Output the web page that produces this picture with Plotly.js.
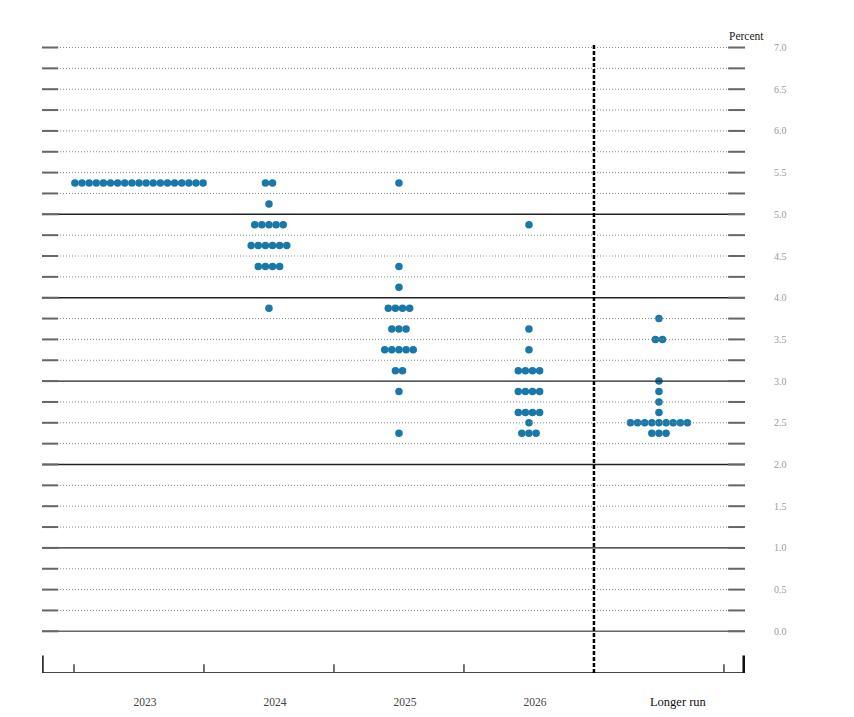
<!DOCTYPE html>
<html>
<head>
<meta charset="utf-8">
<script src="https://cdn.plot.ly/plotly-3.0.1.min.js"></script>
<style>html,body{margin:0;padding:0;background:#fff;}#chart{width:854px;height:717px;}</style>
</head>
<body>
<div id="chart"></div>
<script>
// ---- Data: each entry is one participant's projection (percent) ----
const categories = ['2023', '2024', '2025', '2026', 'Longer run'];

const dots2023 = [5.375, 5.375, 5.375, 5.375, 5.375, 5.375, 5.375, 5.375, 5.375, 5.375,
                  5.375, 5.375, 5.375, 5.375, 5.375, 5.375, 5.375, 5.375, 5.375];
const dots2024 = [5.375, 5.375, 5.125, 4.875, 4.875, 4.875, 4.875, 4.875,
                  4.625, 4.625, 4.625, 4.625, 4.625, 4.625,
                  4.375, 4.375, 4.375, 4.375, 3.875];
const dots2025 = [5.375, 4.375, 4.125, 3.875, 3.875, 3.875, 3.875,
                  3.625, 3.625, 3.625, 3.375, 3.375, 3.375, 3.375, 3.375,
                  3.125, 3.125, 2.875, 2.375];
const dots2026 = [4.875, 3.625, 3.375, 3.125, 3.125, 3.125, 3.125,
                  2.875, 2.875, 2.875, 2.875, 2.625, 2.625, 2.625, 2.625,
                  2.5, 2.375, 2.375, 2.375];
const dotsLongerRun = [3.75, 3.5, 3.5, 3.0, 2.875, 2.75, 2.625,
                       2.5, 2.5, 2.5, 2.5, 2.5, 2.5, 2.5, 2.5, 2.5,
                       2.375, 2.375, 2.375];

const yTickValues = [0, 0.5, 1, 1.5, 2, 2.5, 3, 3.5, 4, 4.5, 5, 5.5, 6, 6.5, 7];
const yTickLabels = ['0.0', '0.5', '1.0', '1.5', '2.0', '2.5', '3.0', '3.5', '4.0', '4.5', '5.0', '5.5', '6.0', '6.5', '7.0'];

// ---- Build dot positions (columns at 0..4, dots side by side within a row) ----
const columns = [dots2023, dots2024, dots2025, dots2026, dotsLongerRun];
const dotStep = 0.0548;
const xs = [], ys = [];
columns.forEach((vals, ci) => {
  const counts = new Map();
  vals.forEach(v => counts.set(v, (counts.get(v) || 0) + 1));
  counts.forEach((n, v) => {
    for (let k = 0; k < n; k++) {
      xs.push(ci + (k - (n - 1) / 2) * dotStep);
      ys.push(v);
    }
  });
});

const X0 = -0.746, X1 = 4.662, YB = -0.5;
const shapes = [];
// gridlines every 0.25
for (let i = 0; i <= 28; i++) {
  const v = i * 0.25;
  const solid = (v === 1 || v === 2 || v === 3 || v === 4 || v === 5);
  const zero = v === 0;
  shapes.push({type: 'line', xref: 'x', yref: 'y', x0: X0, x1: X1, y0: v, y1: v,
    line: solid ? {color: '#222', width: 1.4} : zero ? {color: '#666', width: 1.6} : {color: '#8a8a8a', width: 1, dash: '1px,2px'}});
  // solid end dashes
  shapes.push({type: 'line', xref: 'x', yref: 'y', x0: X0, x1: X0 + 0.125, y0: v, y1: v, line: {color: '#666', width: 2}});
  shapes.push({type: 'line', xref: 'x', yref: 'y', x0: X1 - 0.13, x1: X1, y0: v, y1: v, line: {color: '#666', width: 2}});
}
// bottom axis line
shapes.push({type: 'line', xref: 'x', yref: 'y', x0: X0, x1: X1, y0: YB, y1: YB, line: {color: '#444', width: 2}});
// boundary ticks
[-0.5, 0.5, 1.5, 2.5, 4.5].forEach(b => {
  shapes.push({type: 'line', xref: 'x', yref: 'y', x0: b, x1: b, y0: YB, y1: YB + 0.105, line: {color: '#444', width: 1.5}});
});
// end ticks
shapes.push({type: 'line', xref: 'x', yref: 'y', x0: X0 + 0.006, x1: X0 + 0.006, y0: YB, y1: YB + 0.21, line: {color: '#333', width: 2}});
shapes.push({type: 'line', xref: 'x', yref: 'y', x0: X1 - 0.008, x1: X1 - 0.008, y0: YB, y1: YB + 0.21, line: {color: '#111', width: 3}});
// dashed separator before longer run
shapes.push({type: 'line', xref: 'x', yref: 'y', x0: 3.5, x1: 3.5, y0: YB, y1: 7.03, line: {color: '#000', width: 2.5, dash: '4px,2px'}});

const trace = {
  type: 'scatter', mode: 'markers', x: xs, y: ys,
  marker: {color: '#1878a9', size: 7.5, line: {width: 0}},
  hoverinfo: 'skip', showlegend: false
};

const labelOffsets = [0.046, 0.046, 0.046, 0.046, 0.146];
const layout = {
  width: 854, height: 717,
  margin: {l: 42, r: 109, t: 35, b: 44.3},
  paper_bgcolor: '#fff', plot_bgcolor: '#fff',
  font: {family: '"Liberation Serif", "Times New Roman", serif'},
  xaxis: {
    range: [X0, X1], showgrid: false, zeroline: false, showline: false, ticks: '',
    tickvals: categories.map((c, i) => i + labelOffsets[i]),
    ticktext: categories.map(c => c === 'Longer run' ? '<span style="color:#111;font-size:12.5px">' + c + '</span>' : c),
    tickfont: {size: 11.5, color: '#444', family: '"Liberation Serif", serif'},
    ticklabelstandoff: 20, fixedrange: true
  },
  yaxis: {
    range: [YB, 7.15], side: 'right', showgrid: false, zeroline: false, showline: false, ticks: '',
    tickvals: yTickValues, ticktext: yTickLabels,
    tickfont: {size: 10, color: '#9a9a9a', family: '"Liberation Serif", serif'},
    ticklabelstandoff: 28, fixedrange: true
  },
  shapes: shapes,
  annotations: [{
    text: 'Percent', xref: 'paper', x: 1.002, yref: 'y', y: 7.135, xanchor: 'center', yanchor: 'middle',
    showarrow: false, font: {size: 11.5, color: '#222', family: '"Liberation Serif", serif'}
  }]
};

Plotly.newPlot('chart', [trace], layout, {displayModeBar: false, staticPlot: true});
</script>
</body>
</html>
